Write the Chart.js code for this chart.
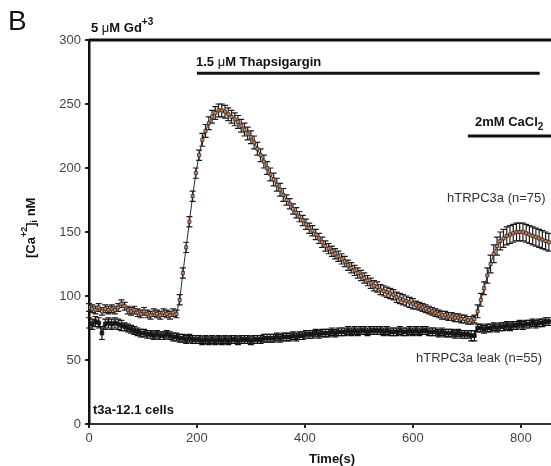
<!DOCTYPE html>
<html>
<head>
<meta charset="utf-8">
<script src="https://cdn.jsdelivr.net/npm/chart.js@4/dist/chart.umd.min.js"></script>
<style>
  html, body { margin: 0; padding: 0; background: #fff; }
  #wrap { width: 551px; height: 466px; position: relative; }
</style>
</head>
<body>
<div id="wrap"><canvas id="myChart" width="551" height="466"></canvas></div>
<script>
// sampling times (s)
const times = [0,6,12,18,24,30,36,42,48,54,60,66,72,78,84,90,96,102,108,114,120,126,132,138,144,150,156,162,
  168,174,180,186,192,198,204,
  210,216,222,228,234,240,246,252,258,264,270,276,282,288,294,300,306,312,318,324,330,336,342,348,354,360,
  366,372,378,384,390,396,402,408,414,420,426,432,438,444,450,456,462,468,474,480,486,492,498,504,510,516,522,528,534,540,546,552,558,564,570,576,582,588,594,600,
  606,612,618,624,630,636,642,648,654,660,666,672,678,684,690,696,702,708,714,
  720,726,732,738,
  744,750,756,762,768,774,780,786,792,798,804,810,816,822,828,834,840,846,852];

// hTRPC3a (n=75), nM
const trpc3a = [91,90,89,91,88,90,89,90,89,91,94,92,89,88,89,87,86,88,86,85,87,86,85,87,86,85,87,86,
  97,118,138,158,178,196,210,
  222,229,235,240,243,245,245,244,242,240,238,236,233,230,227,224,220,215,210,205,200,195,191,187,183,179,
  175,172,168,165,162,159,156,153,151,148,145,142,139,137,135,133,131,129,127,124,122,120,118,116,114,112,110,108,107,105,104,103,102,101,99,98,97,96,95,94,
  93,92,91,90,89,88,87,86,85,85,84,84,83,83,82,82,81,81,82,
  88,97,106,116,
  125,133,139,143,145,147,148,149,150,150,150,149,148,147,146,145,144,143,142];
const trpc3aErr = [3,3,3,3,3,3,3,3,3,3,3,3,3,3,3,3,3,3,3,3,3,3,3,3,3,3,3,3,
  4,4,4,4,4,4,4,
  5,5,5,5,5,5,5,5,5,5,5,5,5,5,5,5,5,5,5,5,5,5,5,5,5,5,
  4,4,4,4,4,4,4,4,4,4,4,4,4,4,4,4,4,4,4,4,4,4,4,4,4,4,4,4,4,4,4,4,4,4,4,4,4,4,4,4,
  3,3,3,3,3,3,3,3,3,3,3,3,3,3,3,3,3,3,3,
  5,5,5,6,
  7,7,7,7,7,7,7,7,7,7,7,7,7,7,7,7,7,7,7];

// hTRPC3a leak (n=55), nM
const leak = [79,78,80,79,71,78,79,78,79,78,77,76,75,74,73,72,71,71,70,70,69,70,69,69,70,69,68,68,
  67,67,66,67,66,66,66,
  65,66,65,66,65,66,65,66,65,66,66,65,66,66,66,65,66,66,66,67,67,67,67,68,67,68,
  68,68,69,68,69,69,70,70,70,71,70,71,71,71,72,71,72,72,72,73,72,73,72,73,73,72,73,73,73,73,72,73,72,72,72,73,72,72,73,72,
  73,72,73,73,72,72,72,71,72,71,71,71,70,71,70,70,70,69,69,
  75,75,74,75,
  75,76,75,76,76,77,76,77,77,78,77,78,78,79,78,79,79,80,80];
const leakErr = [4,4,4,4,5,4,4,4,4,4,4,3,3,3,3,3,3,3,3,3,3,3,3,3,3,3,3,3,
  3,3,3,3,3,3,3,
  3,3,3,3,3,3,3,3,3,3,3,3,3,3,3,3,3,3,3,3,3,3,3,3,3,3,
  3,3,3,3,3,3,3,3,3,3,3,3,3,3,3,3,3,3,3,3,3,3,3,3,3,3,3,3,3,3,3,3,3,3,3,3,3,3,3,3,
  3,3,3,3,3,3,3,3,3,3,3,3,3,3,3,3,3,4,4,
  3,3,3,3,
  3,3,3,3,3,3,3,3,3,3,3,3,3,3,3,3,3,3,3];

// treatment bars: start, end (s), level (nM)
const barStarts = [0, 200, 702];
const barEnds = [856, 835, 856];
const barLevels = [300, 274, 225];

const xTicks = [0, 200, 400, 600, 800];
const FONT = "Arial, 'Liberation Sans', sans-serif";

const errorBars = {
  id: 'errorBars',
  beforeDatasetsDraw(chart) {
    const ctx = chart.ctx;
    const xs = chart.scales.x, ys = chart.scales.y;
    const sets = [[leak, leakErr, '#111'], [trpc3a, trpc3aErr, '#1c1c1c']];
    ctx.save();
    ctx.lineWidth = 1.2;
    sets.forEach(([vals, errs, col]) => {
      ctx.strokeStyle = col;
      vals.forEach((v, i) => {
        const px = xs.getPixelForValue(times[i]);
        const top = ys.getPixelForValue(v + errs[i]);
        const bot = ys.getPixelForValue(v - errs[i]);
        ctx.beginPath();
        ctx.moveTo(px, top); ctx.lineTo(px, bot);
        ctx.moveTo(px - 3, top); ctx.lineTo(px + 3, top);
        ctx.moveTo(px - 3, bot); ctx.lineTo(px + 3, bot);
        ctx.stroke();
      });
    });
    ctx.restore();
  }
};

function supText(ctx, x, y, parts) {
  // parts: [text, size, bold, dy]
  parts.forEach(p => {
    ctx.font = (p[2] ? 'bold ' : '') + p[1] + 'px ' + FONT;
    ctx.fillText(p[0], x, y + p[3]);
    x += ctx.measureText(p[0]).width;
  });
  return x;
}

const labels = {
  id: 'labels',
  afterDraw(chart) {
    const ctx = chart.ctx;
    const xs = chart.scales.x, ys = chart.scales.y;
    ctx.save();
    // treatment bars
    ctx.strokeStyle = '#111';
    ctx.lineWidth = 3;
    barStarts.forEach((s, i) => {
      const yy = ys.getPixelForValue(barLevels[i]);
      ctx.beginPath();
      ctx.moveTo(xs.getPixelForValue(s), yy);
      ctx.lineTo(xs.getPixelForValue(barEnds[i]), yy);
      ctx.stroke();
    });
    ctx.fillStyle = '#111';
    ctx.textBaseline = 'middle';
    ctx.textAlign = 'left';
    // panel letter
    ctx.font = '28px ' + FONT;
    ctx.fillText('B', 8, 22);
    // treatments
    supText(ctx, 91, 28, [['5 ', 13, true, 0], ['\u03bc', 13, false, 0], ['M Gd', 13, true, 0], ['+3', 10, true, -6]]);
    supText(ctx, 196, 62, [['1.5 ', 13, true, 0], ['\u03bc', 13, false, 0], ['M Thapsigargin', 13, true, 0]]);
    supText(ctx, 475, 122, [['2mM CaCl', 13, true, 0], ['2', 10, true, 5]]);
    supText(ctx, 93, 410, [['t3a-12.1 cells', 13, true, 0]]);
    // series names
    ctx.font = '13px ' + FONT;
    ctx.fillStyle = '#333';
    ctx.fillText('hTRPC3a (n=75)', 447, 198);
    ctx.fillText('hTRPC3a leak (n=55)', 416, 358);
    // axis titles
    ctx.fillStyle = '#111';
    ctx.font = 'bold 13px ' + FONT;
    ctx.textAlign = 'center';
    ctx.fillText('Time(s)', 332, 459);
    ctx.translate(31, 224);
    ctx.rotate(-Math.PI / 2);
    ctx.textAlign = 'left';
    supText(ctx, -34, 0, [['[Ca', 13, true, 0], ['+2', 9, true, -6], [']', 13, true, 0], ['i', 9, true, 4], [' nM', 13, true, 0]]);
    ctx.restore();
  }
};

const data = {
  datasets: [{
    label: 'hTRPC3a (n=75)',
    data: times.map((t, i) => ({ x: t, y: trpc3a[i] })),
    borderColor: '#2a2a2a',
    borderWidth: 1,
    pointStyle: 'rect',
    pointRadius: 2.2,
    pointBackgroundColor: '#e8804a',
    pointBorderColor: '#2a2a2a',
    pointBorderWidth: 0.8,
    tension: 0
  }, {
    label: 'hTRPC3a leak (n=55)',
    data: times.map((t, i) => ({ x: t, y: leak[i] })),
    borderColor: '#111',
    borderWidth: 1.2,
    pointStyle: 'rect',
    pointRadius: 2.6,
    pointBackgroundColor: '#1a1a1a',
    pointBorderColor: '#111',
    pointBorderWidth: 0.8,
    tension: 0
  }]
};

const config = {
  type: 'line',
  data: data,
  options: {
    responsive: false,
    animation: false,
    layout: { autoPadding: false, padding: { top: 40, right: 0, left: 0, bottom: 0 } },
    plugins: { legend: { display: false }, tooltip: { enabled: false } },
    scales: {
      x: {
        type: 'linear',
        min: 0, max: 856,
        afterFit: (s) => { s.height = 42; s.paddingLeft = 0; s.paddingRight = 0; },
        afterBuildTicks: (s) => { s.ticks = xTicks.map(v => ({ value: v })); },
        grid: { drawOnChartArea: false, drawTicks: true, tickLength: 4, color: '#222', lineWidth: 2 },
        border: { color: '#333', width: 2 },
        ticks: { color: '#444', font: { size: 13, family: FONT }, padding: 3, maxRotation: 0 }
      },
      y: {
        min: 0, max: 300,
        afterFit: (s) => { s.width = 89; },
        grid: { drawOnChartArea: false, drawTicks: true, tickLength: 4, color: '#222', lineWidth: 2 },
        border: { color: '#111', width: 2.5 },
        ticks: { stepSize: 50, color: '#444', font: { size: 13, family: FONT }, padding: 4 }
      }
    }
  },
  plugins: [errorBars, labels]
};

window.addEventListener('DOMContentLoaded', () => {
  const myChart = new Chart(document.getElementById('myChart'), config);
});
</script>
</body>
</html>
